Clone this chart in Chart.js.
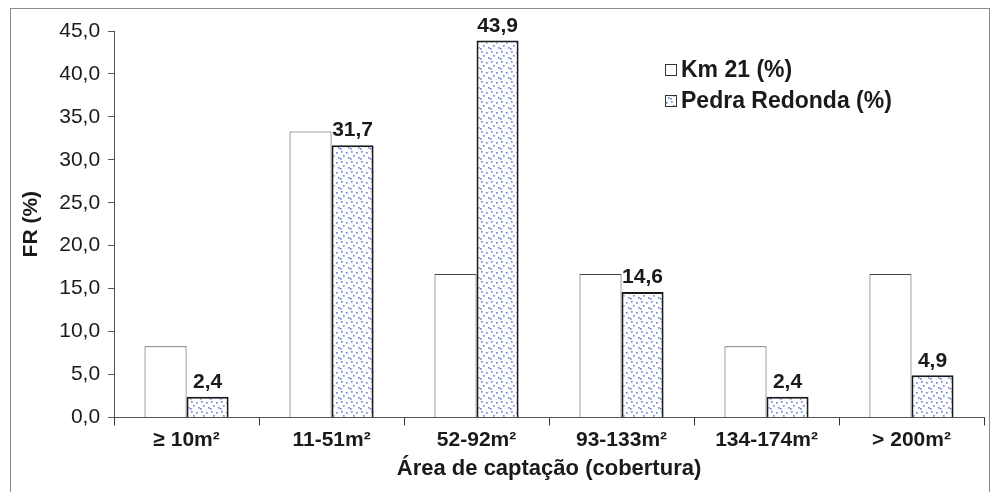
<!DOCTYPE html>
<html>
<head>
<meta charset="utf-8">
<script src="https://cdn.jsdelivr.net/npm/chart.js@4"></script>
<style>
  html, body { margin: 0; padding: 0; background: #fff; }
  #wrap { width: 992px; height: 492px; }
</style>
</head>
<body>
<div id="wrap"><canvas id="grafico" width="992" height="492"></canvas></div>
<script>
// dados
const categorias = ['\u2265 10m\u00b2', '11-51m\u00b2', '52-92m\u00b2', '93-133m\u00b2', '134-174m\u00b2', '> 200m\u00b2'];
const km21 = [8.3, 33.3, 16.7, 16.7, 8.3, 16.7];
const pedraRedonda = [2.4, 31.7, 43.9, 14.6, 2.4, 4.9];
const nomesSeries = ['Km 21 (%)', 'Pedra Redonda (%)'];

const fonte = 'Liberation Sans, Arial, sans-serif';
const virgula = v => v.toFixed(1).replace('.', ',');

// padrão pontilhado azul
function padraoPontos() {
  const c = document.createElement('canvas');
  c.width = 10; c.height = 10;
  const g = c.getContext('2d');
  g.fillStyle = '#ffffff';
  g.fillRect(0, 0, 10, 10);
  g.fillStyle = '#7390d6';
  [[1, 1], [6, 2], [3, 5], [8, 7], [0, 8]].forEach(p => g.fillRect(p[0], p[1], 1.7, 1.7));
  return g.createPattern(c, 'repeat');
}
const pontilhado = padraoPontos();

// moldura externa
const moldura = {
  id: 'moldura',
  afterDraw(chart) {
    const ctx = chart.ctx;
    ctx.save();
    ctx.strokeStyle = '#8a8a8a';
    ctx.lineWidth = 1;
    ctx.strokeRect(10.5, 8.5, 979, 500);
    ctx.restore();
  }
};

// rótulos só da série Pedra Redonda
const rotulos = {
  id: 'rotulos',
  afterDatasetsDraw(chart) {
    const ctx = chart.ctx;
    const meta = chart.getDatasetMeta(1);
    ctx.save();
    ctx.font = 'bold 21px ' + fonte;
    ctx.fillStyle = '#1a1a1a';
    ctx.textAlign = 'center';
    ctx.textBaseline = 'bottom';
    meta.data.forEach((bar, i) => {
      ctx.fillText(virgula(pedraRedonda[i]), bar.x, bar.y - 4);
    });
    ctx.restore();
  }
};

// legenda dentro da área
const legendaInterna = {
  id: 'legendaInterna',
  afterDraw(chart) {
    const ctx = chart.ctx;
    const x0 = 665, y0 = 70, passo = 31;
    ctx.save();
    ctx.font = 'bold 23px ' + fonte;
    ctx.textBaseline = 'middle';
    chart.data.datasets.forEach((ds, i) => {
      const y = y0 + i * passo;
      ctx.fillStyle = ds.backgroundColor;
      ctx.fillRect(x0, y - 6, 12, 12);
      ctx.strokeStyle = '#333';
      ctx.lineWidth = 1;
      ctx.strokeRect(x0 + 0.5, y - 5.5, 11, 11);
      ctx.fillStyle = '#1a1a1a';
      ctx.fillText(ds.label, x0 + 16, y + 1);
    });
    ctx.restore();
  }
};

new Chart(document.getElementById('grafico').getContext('2d'), {
  type: 'bar',
  data: {
    labels: categorias,
    datasets: [
      {
        label: nomesSeries[0],
        data: km21,
        backgroundColor: '#ffffff',
        borderColor: '#444444',
        borderWidth: 1,
        categoryPercentage: 0.58,
        barPercentage: 1.0
      },
      {
        label: nomesSeries[1],
        data: pedraRedonda,
        backgroundColor: pontilhado,
        borderColor: '#1a1a1a',
        borderWidth: 2,
        categoryPercentage: 0.58,
        barPercentage: 1.0
      }
    ]
  },
  options: {
    responsive: false,
    animation: false,
    layout: { padding: { left: 12, right: 8, top: 31, bottom: 10 } },
    plugins: {
      legend: { display: false },
      tooltip: { enabled: false }
    },
    scales: {
      x: {
        grid: { display: true, drawOnChartArea: false, drawTicks: true, tickLength: 8, color: '#333' },
        border: { color: '#555', width: 1 },
        ticks: { color: '#1a1a1a', font: { family: fonte, size: 21, weight: 'bold' }, padding: 2 },
        title: { display: true, text: '\u00c1rea de capta\u00e7\u00e3o (cobertura)', color: '#1a1a1a', font: { family: fonte, size: 22, weight: 'bold' }, padding: { top: 1, bottom: 0 } }
      },
      y: {
        min: 0,
        max: 45,
        grid: { display: true, drawOnChartArea: false, drawTicks: true, tickLength: 6, color: '#555' },
        border: { color: '#555', width: 1 },
        ticks: { stepSize: 5, color: '#1a1a1a', font: { family: fonte, size: 21 }, padding: 8, callback: v => virgula(v) },
        title: { display: true, text: 'FR (%)', color: '#1a1a1a', font: { family: fonte, size: 21, weight: 'bold' }, padding: { top: 7, bottom: 7 } }
      }
    }
  },
  plugins: [moldura, rotulos, legendaInterna]
});
</script>
</body>
</html>
